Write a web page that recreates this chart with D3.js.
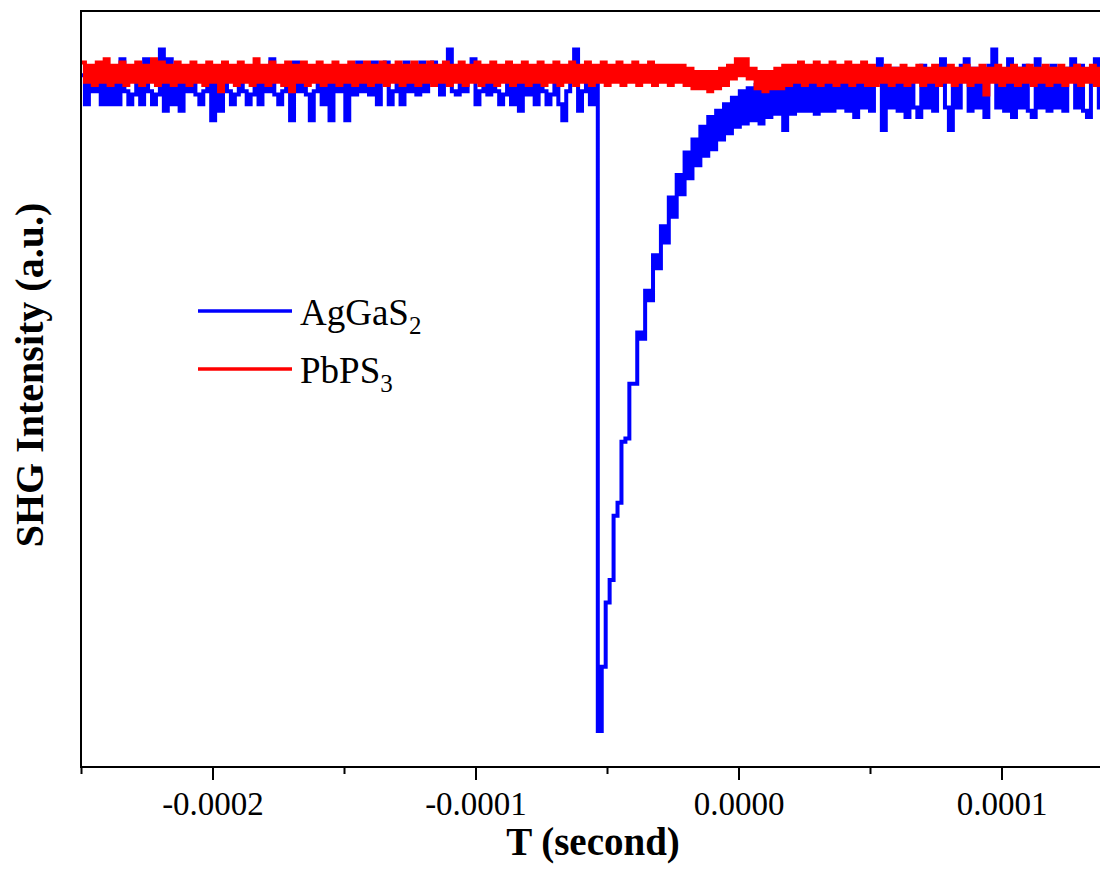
<!DOCTYPE html>
<html>
<head>
<meta charset="utf-8">
<script src="https://cdn.jsdelivr.net/npm/d3@7"></script>
<style>
  html, body { margin: 0; padding: 0; background: #fff; }
  svg { display: block; font-family: "Liberation Serif", "Times New Roman", serif; }
</style>
</head>
<body>
<svg id="chart" width="1100" height="870"></svg>
<script>
// SHG intensity vs time, AgGaS2 vs PbPS3 (scope trace).
// Samples are taken every T_STEP seconds starting at T_START.

const T_START = -250e-6;
const T_STEP = 1.5e-6;

// AgGaS2 — arbitrary units, baseline ~200, sharp dip to 0 then recovery
const agGaS2 = [
  204, 195, 204, 199, 205, 195, 203, 195, 204, 195,
  209, 199, 195, 198, 204, 195, 209, 199, 195, 198,
  212, 193, 209, 195, 204, 193, 205, 199, 203, 198,
  195, 199, 204, 190, 205, 193, 203, 199, 195, 198,
  204, 199, 195, 198, 205, 195, 203, 199, 209, 198,
  195, 199, 204, 190, 208, 199, 204, 198, 190, 199,
  205, 195, 204, 190, 203, 199, 204, 190, 205, 198,
  208, 199, 204, 198, 208, 195, 204, 208, 195, 199,
  204, 195, 208, 199, 204, 198, 208, 199, 204, 208,
  204, 198, 205, 212, 199, 198, 204, 199, 205, 209,
  195, 199, 204, 198, 205, 199, 195, 198, 204, 195,
  205, 193, 204, 198, 205, 195, 204, 199, 195, 198,
  204, 195, 190, 199, 204, 212, 193, 199, 204, 195,
  204, 0, 20, 40, 47, 67, 71, 90, 91, 108,
  108, 124, 122, 137, 134, 148, 144, 157, 152, 166,
  160, 173, 167, 180, 172, 184, 176, 188, 179, 191,
  181, 193, 184, 195, 186, 197, 188, 199, 189, 200,
  190, 201, 189, 201, 191, 202, 192, 202, 187, 203,
  192, 203, 193, 204, 193, 203, 192, 204, 193, 203,
  193, 204, 194, 203, 193, 204, 191, 205, 194, 203,
  193, 204, 209, 187, 204, 194, 206, 193, 204, 191,
  205, 194, 191, 207, 194, 204, 193, 206, 209, 194,
  187, 204, 194, 207, 209, 193, 206, 194, 205, 191,
  207, 212, 194, 204, 193, 209, 191, 206, 194, 207,
  193, 191, 209, 194, 206, 193, 207, 194, 204, 193,
  206, 209, 194, 207, 193, 191, 204, 209, 194, 206,
  193
];

// PbPS3 — same units, flat with a small wiggle near t = 0
const pbPS3 = [
  208, 202, 207, 201, 208, 202, 209, 201, 207, 202,
  208, 201, 207, 202, 208, 201, 207, 202, 209, 201,
  208, 202, 207, 201, 208, 202, 207, 201, 208, 202,
  207, 201, 208, 202, 207, 199, 208, 202, 207, 201,
  208, 202, 207, 201, 209, 202, 207, 201, 208, 202,
  207, 201, 208, 199, 207, 202, 208, 201, 207, 202,
  208, 201, 207, 202, 208, 201, 207, 202, 208, 201,
  207, 202, 208, 201, 207, 202, 208, 201, 207, 202,
  208, 201, 207, 202, 208, 201, 207, 202, 208, 201,
  207, 202, 208, 201, 207, 202, 208, 201, 207, 202,
  208, 201, 207, 202, 208, 201, 207, 202, 208, 201,
  207, 202, 208, 201, 207, 202, 208, 201, 207, 202,
  208, 201, 207, 202, 208, 201, 207, 202, 208, 201,
  207, 202, 208, 201, 207, 202, 208, 201, 207, 202,
  208, 201, 207, 202, 208, 201, 207, 202, 207, 201,
  207, 202, 207, 201, 206, 200, 205, 200, 205, 199,
  205, 200, 206, 201, 207, 203, 209, 204, 209, 203,
  206, 200, 205, 199, 205, 200, 206, 200, 207, 201,
  207, 202, 208, 201, 207, 202, 208, 201, 207, 202,
  208, 201, 207, 202, 208, 201, 207, 202, 208, 201,
  207, 201, 206, 202, 207, 201, 206, 202, 207, 201,
  206, 202, 207, 201, 206, 202, 207, 201, 206, 202,
  207, 201, 206, 202, 207, 201, 206, 202, 207, 198,
  206, 202, 207, 201, 206, 202, 207, 201, 206, 202,
  207, 201, 206, 202, 207, 201, 206, 202, 207, 201,
  206, 202, 207, 201, 206, 202, 207, 201, 206, 202,
  207
];

const series = [
  { name: 'AgGaS', sub: '2', values: agGaS2, color: '#0000ff' },
  { name: 'PbPS', sub: '3', values: pbPS3, color: '#ff0000' },
];

const xMajor = [-0.0002, -0.0001, 0, 0.0001];
const xMinor = [-0.00025, -0.00015, -0.00005, 0.00005, 0.00015];

// Plot frame. The right edge runs past the 1100px window, as in the source.
const M = { left: 81, top: 11, right: 1133, bottom: 767 };

const svg = d3.select('#chart');

const x = d3.scaleLinear().domain([-250e-6, 150e-6]).range([M.left, M.right]);
const y = d3.scaleLinear().domain([-11.2, 224]).range([M.bottom, M.top]);

svg.append('defs').append('clipPath').attr('id', 'plot-clip')
  .append('rect')
  .attr('x', M.left).attr('y', M.top)
  .attr('width', M.right - M.left).attr('height', M.bottom - M.top);

// Traces — blue first, red on top. Stroke as wide as one sample step so
// the noise reads as a solid band, like the dense scope trace.
const line = d3.line()
  .x((d, i) => x(T_START + i * T_STEP))
  .y((d) => y(d))
  .curve(d3.curveStepAfter);

const tracesG = svg.append('g').attr('clip-path', 'url(#plot-clip)');
series.forEach((s) => {
  tracesG.append('path')
    .datum(s.values)
    .attr('fill', 'none')
    .attr('stroke', s.color)
    .attr('stroke-width', 4)
    .attr('d', line);
});

// Frame
svg.append('rect')
  .attr('x', M.left).attr('y', M.top)
  .attr('width', M.right - M.left).attr('height', M.bottom - M.top)
  .attr('fill', 'none')
  .attr('stroke', '#000')
  .attr('stroke-width', 2);

// X axis: long major ticks with labels, short minor ticks
const axisMajor = d3.axisBottom(x)
  .tickValues(xMajor)
  .tickSize(13)
  .tickPadding(12)
  .tickFormat((d) => d.toFixed(4));

const axisMinor = d3.axisBottom(x)
  .tickValues(xMinor)
  .tickSize(7)
  .tickFormat('');

[axisMajor, axisMinor].forEach((ax) => {
  const g = svg.append('g')
    .attr('transform', `translate(0,${M.bottom})`)
    .call(ax);
  g.select('.domain').remove();
  g.selectAll('line').attr('stroke', '#000').attr('stroke-width', 2);
  g.selectAll('text')
    .attr('fill', '#000')
    .style('font-family', '"Liberation Serif", "Times New Roman", serif')
    .style('font-size', '33px');
});

// Axis titles
svg.append('text')
  .attr('x', 593).attr('y', 855)
  .attr('text-anchor', 'middle')
  .attr('font-weight', 'bold')
  .attr('font-size', 39)
  .text('T (second)');

svg.append('text')
  .attr('transform', 'translate(43,375) rotate(-90)')
  .attr('text-anchor', 'middle')
  .attr('font-weight', 'bold')
  .attr('font-size', 40)
  .text('SHG Intensity (a.u.)');

// Legend
const legendRows = [311, 369];
const legend = svg.append('g');
series.forEach((s, i) => {
  const ly = legendRows[i];
  legend.append('line')
    .attr('x1', 198).attr('x2', 292)
    .attr('y1', ly).attr('y2', ly)
    .attr('stroke', s.color)
    .attr('stroke-width', 3.3);
  const t = legend.append('text')
    .attr('x', 300).attr('y', ly + 14)
    .attr('font-size', 37);
  t.append('tspan').text(s.name);
  t.append('tspan').attr('font-size', 25).attr('dy', 9).text(s.sub);
});
</script>
</body>
</html>
